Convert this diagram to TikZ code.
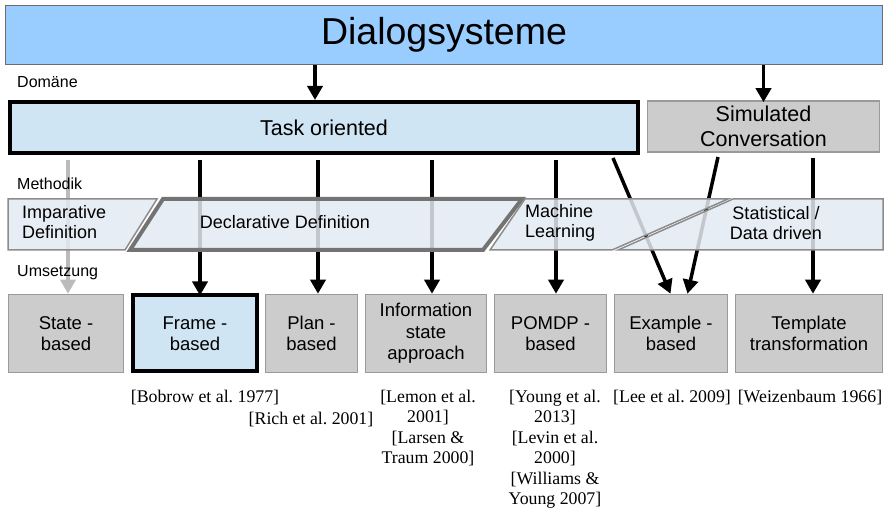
\documentclass[tikz,border=0pt]{standalone}
\usepackage{fontspec}
\setmainfont{Liberation Sans}
\newfontfamily\refserif{Liberation Serif}
\usetikzlibrary{arrows.meta}
\frenchspacing

\definecolor{topblue}{HTML}{99CCFF}
\definecolor{paleblue}{HTML}{CFE5F3}
\definecolor{boxgray}{HTML}{CCCCCC}
\definecolor{edgegray}{HTML}{9A9A9A}
\definecolor{parafill}{HTML}{E3EAF2}
\definecolor{paraedge}{HTML}{8C8C8C}
\definecolor{softgray}{HTML}{BBBBBB}

\begin{document}
\begin{tikzpicture}[x=1pt,y=-1pt,
  boxtext/.style={font=\fontsize{18.5}{21.5}\selectfont, align=center, inner sep=0pt, text=black},
  graybox/.style={boxtext, draw=edgegray, line width=1.5pt, fill=boxgray, minimum height=78pt},
  keybox/.style={boxtext, draw=black, line width=4pt, fill=paleblue, minimum height=76pt},
  rowlabel/.style={font=\fontsize{16}{19}\selectfont, anchor=west, inner sep=0pt},
  paratext/.style={font=\fontsize{18}{20.5}\selectfont, inner sep=0pt},
  para/.style={draw=paraedge, line width=1.5pt, fill=parafill, fill opacity=0.85, line join=miter},
  paraheavy/.style={para, draw=gray!90!black, line width=4pt},
  reftext/.style={font=\refserif\fontsize{17.8}{20.5}\selectfont, align=center, inner sep=0pt, anchor=north},
  arr/.style={line width=3.5pt, -{Triangle[width=15pt,length=14pt]}},
  softarr/.style={arr, draw=softgray}
]
\useasboundingbox (0,0) rectangle (889,510);

% top level
\node[draw=gray!85!black, line width=1.5pt, fill=topblue, minimum width=877pt, minimum height=59pt,
      inner sep=0pt, font=\fontsize{37.5}{40}\selectfont] (dialog) at (444,35) {Dialogsysteme};

% domains
\node[boxtext, draw=black, line width=4pt, fill=paleblue, minimum width=628pt, minimum height=51pt,
      font=\fontsize{21.5}{24}\selectfont] (task) at (324,127.5) {Task oriented};
\node[boxtext, draw=edgegray, line width=1.5pt, fill=boxgray, minimum width=232pt, minimum height=51pt,
      font=\fontsize{21.5}{25.5}\selectfont] (sim) at (763.5,126.5) {Simulated\\Conversation};

% implementation boxes
\node[graybox, minimum width=115pt] (state) at (66,333.5) {State -\\based};
\node[keybox, minimum width=124pt] (frame) at (195,333.5) {Frame -\\based};
\node[graybox, minimum width=92pt] (plan) at (311.5,333.5) {Plan -\\based};
\node[graybox, minimum width=121pt] (info) at (426,333.5) {Information\\state\\approach};
\node[graybox, minimum width=112pt] (pomdp) at (550.5,333.5) {POMDP -\\based};
\node[graybox, minimum width=113pt] (example) at (671,333.5) {Example -\\based};
\node[graybox, minimum width=147pt] (template) at (809,333.5) {Template\\transformation};

% connectors
\draw[arr] ([xshift=-9pt]dialog.south -| task.north) -- ([xshift=-9pt]task.north);
\draw[arr] (dialog.south -| sim.north) -- ([yshift=-2pt]sim.north);

\draw[softarr, shorten <=5pt] ([xshift=2pt]state.north |- task.south) -- ([xshift=2pt]state.north);
\draw[arr, shorten <=5pt] ([xshift=5pt]frame.north |- task.south) -- ([xshift=5pt,yshift=-2pt]frame.north);
\draw[arr, shorten <=5pt] ([xshift=6.5pt]plan.north |- task.south) -- ([xshift=6.5pt]plan.north);
\draw[arr, shorten <=5pt] ([xshift=6pt]info.north |- task.south) -- ([xshift=6pt]info.north);
\draw[arr, shorten <=5pt] ([xshift=5.5pt]pomdp.north |- task.south) -- ([xshift=5.5pt]pomdp.north);
\coordinate (taskout) at (613,158);
\coordinate (simout) at (718,157);
\draw[arr] (taskout) -- ([xshift=-0.5pt]example.north);
\draw[arr] (simout) -- ([xshift=16.5pt]example.north);
\draw[arr, shorten <=5pt] ([xshift=4pt]template.north |- sim.south) -- ([xshift=4pt]template.north);

% row labels, set over the connectors
\node[rowlabel] (lbldom) at (17,82) {Domäne};
\node[rowlabel] (lblmeth) at (17,184) {Methodik};
\node[rowlabel] (lblimpl) at (17,273) {Umsetzung};

% methodology bands
\path[para] (8,199) -- (157,199) -- (125,250) -- (8,250) -- cycle;
\path[paraheavy] (163,199) -- (522,199) -- (483,250) -- (130,250) -- cycle;
\path[para] (525,199) -- (728,199) -- (612,250) -- (490,250) -- cycle;
\path[para] (733,199) -- (883,199) -- (883,250) -- (618,250) -- cycle;

\node[paratext, anchor=west, align=left] (imp) at (22,222) {Imparative\\Definition};
\node[paratext] (decl) at (285,222) {Declarative Definition};
\node[paratext, anchor=west, align=left] (ml) at (525,223) {Machine\\Learning};
\node[paratext, align=center] (stat) at (776,223) {Statistical /\\Data driven};

% references
\node[reftext] (refframe) at (205,389.5) {{[}Bobrow et al. 1977]};
\node[reftext] (refplan) at (311,412) {{[}Rich et al. 2001]};
\node[reftext] (refinfo) at (428,389.5) {{[}Lemon et al.\\2001]\\{[}Larsen \&\\Traum 2000]};
\node[reftext] (refpomdp) at (555,389.5) {{[}Young et al.\\2013]\\{[}Levin et al.\\2000]\\{[}Williams \&\\Young 2007]};
\node[reftext] (refex) at (672,389.5) {{[}Lee et al. 2009]};
\node[reftext] (reftpl) at (810,389.5) {{[}Weizenbaum 1966]};
\end{tikzpicture}
\end{document}
